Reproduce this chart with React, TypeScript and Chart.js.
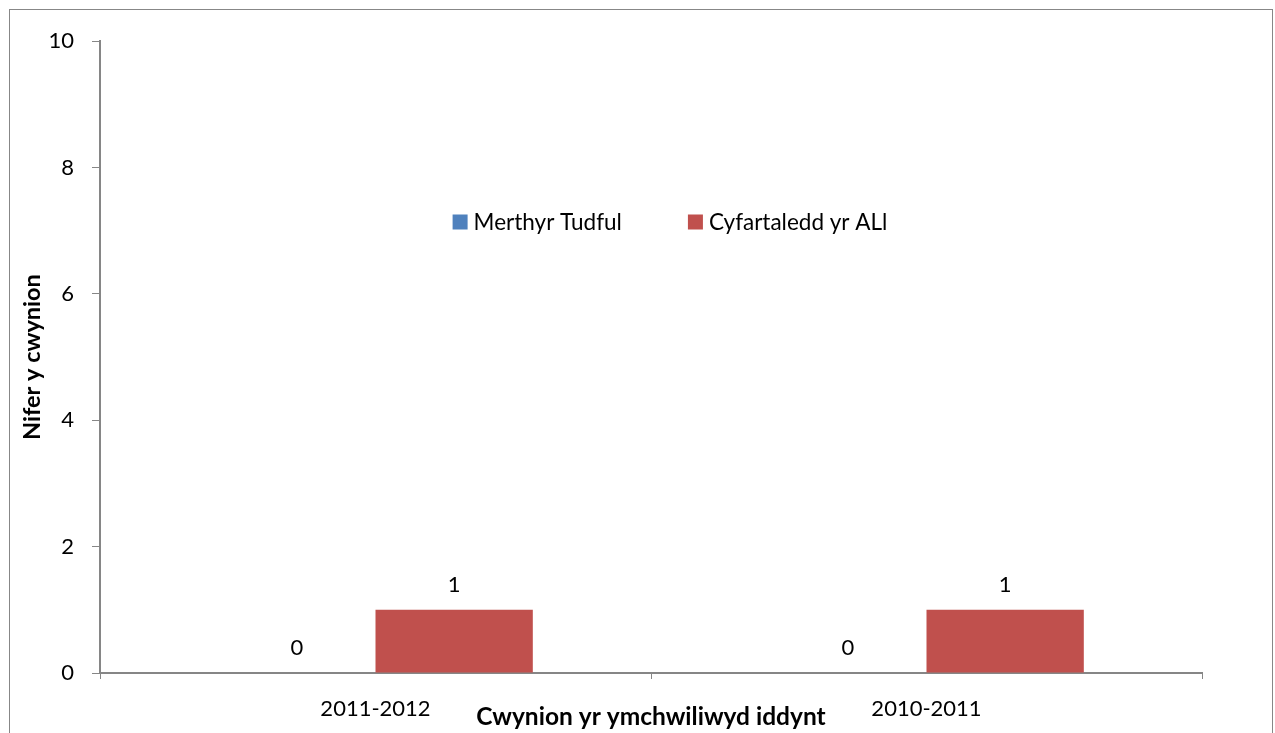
import React, { useEffect, useRef } from "react";
import { Chart, registerables } from "chart.js";

Chart.register(...registerables);

const categories = ["2011-2012", "2010-2011"];
const seriesNames = ["Merthyr Tudful", "Cyfartaledd yr ALl"];
const merthyrValues = [0, 0];
const averageValues = [1, 1];
const yTicks = [0, 2, 4, 6, 8, 10];
const xTitle = "Cwynion yr ymchwiliwyd iddynt";
const yTitle = "Nifer y cwynion";

const BLUE = "#4F81BD";
const RED = "#C0504D";
const AXIS = "#868686";
const FONT = "Lato, 'Open Sans', sans-serif";

const dataLabelPlugin = {
  id: "dataLabels",
  afterDatasetsDraw(chart: any) {
    const ctx = chart.ctx;
    ctx.save();
    ctx.font = `22px ${FONT}`;
    ctx.fillStyle = "#000";
    ctx.textAlign = "center";
    ctx.textBaseline = "middle";
    chart.data.datasets.forEach((ds: any, i: number) => {
      const meta = chart.getDatasetMeta(i);
      meta.data.forEach((el: any, j: number) => {
        ctx.fillText(String(ds.data[j]), el.x, el.y - 25);
      });
    });
    ctx.restore();
  },
};

const legendPlugin = {
  id: "innerLegend",
  afterDraw(chart: any) {
    const ctx = chart.ctx;
    ctx.save();
    ctx.font = `22.5px ${FONT}`;
    ctx.textBaseline = "middle";
    ctx.textAlign = "left";
    const box = 15;
    const gapBoxText = 6;
    const gapItems = 66;
    const items = chart.data.datasets.map((ds: any) => ({
      label: ds.label,
      color: ds.backgroundColor,
      w: ctx.measureText(ds.label).width,
    }));
    const total = items.reduce(
      (s: number, it: any, i: number) => s + box + gapBoxText + it.w + (i > 0 ? gapItems : 0),
      0
    );
    const cy = 212;
    let x = 660 - total / 2;
    items.forEach((it: any) => {
      ctx.fillStyle = it.color;
      ctx.fillRect(x, cy - box / 2, box, box);
      x += box + gapBoxText;
      ctx.fillStyle = "#000";
      ctx.fillText(it.label, x, cy + 1);
      x += it.w + gapItems;
    });
    ctx.restore();
  },
};

function BarChart() {
  const ref = useRef<HTMLCanvasElement | null>(null);
  useEffect(() => {
    if (!ref.current) return;
    const chart = new Chart(ref.current, {
      type: "bar",
      data: {
        labels: categories,
        datasets: [
          { label: seriesNames[0], data: merthyrValues, backgroundColor: BLUE },
          { label: seriesNames[1], data: averageValues, backgroundColor: RED },
        ],
      },
      options: {
        responsive: false,
        animation: false,
        events: [],
        layout: { padding: { top: 29, right: 70, left: 0, bottom: 0 } },
        plugins: {
          legend: { display: false },
          tooltip: { enabled: false },
          title: { display: false },
        },
        datasets: {
          bar: { categoryPercentage: 0.571, barPercentage: 1 },
        },
        scales: {
          x: {
            grid: {
              display: true,
              drawOnChartArea: false,
              drawTicks: true,
              tickLength: 6,
              color: AXIS,
              offset: true,
            },
            border: { color: AXIS, width: 2 },
            ticks: {
              color: "#000",
              font: { family: FONT, size: 22 },
              padding: 17,
              maxRotation: 0,
            },
            title: {
              display: true,
              text: xTitle,
              color: "#000",
              font: { family: FONT, size: 24.5, weight: "bold" },
              padding: { top: 0, bottom: 18 },
            },
            afterFit(scale: any) {
              scale.height = 77;
            },
          },
          y: {
            min: 0,
            max: 10,
            grid: {
              display: true,
              drawOnChartArea: false,
              drawTicks: true,
              tickLength: 8,
              color: AXIS,
            },
            border: { color: AXIS, width: 2 },
            afterBuildTicks(scale: any) {
              scale.ticks = yTicks.map((v) => ({ value: v }));
            },
            ticks: {
              color: "#000",
              font: { family: FONT, size: 22 },
              padding: 18,
            },
            title: {
              display: true,
              text: yTitle,
              color: "#000",
              font: { family: FONT, size: 23.5, weight: "bold" },
              padding: { top: 8, bottom: 0 },
            },
            afterFit(scale: any) {
              scale.width = 90;
            },
          },
        },
      },
      plugins: [dataLabelPlugin, legendPlugin],
    } as any);
    return () => chart.destroy();
  }, []);
  return <canvas ref={ref} width={1262} height={740} style={{ display: "block" }} />;
}

export default function App() {
  return (
    <div
      style={{
        position: "fixed",
        left: 9,
        top: 9,
        width: 1262,
        height: 740,
        border: "1px solid #878787",
        background: "#fff",
      }}
    >
      <BarChart />
    </div>
  );
}
